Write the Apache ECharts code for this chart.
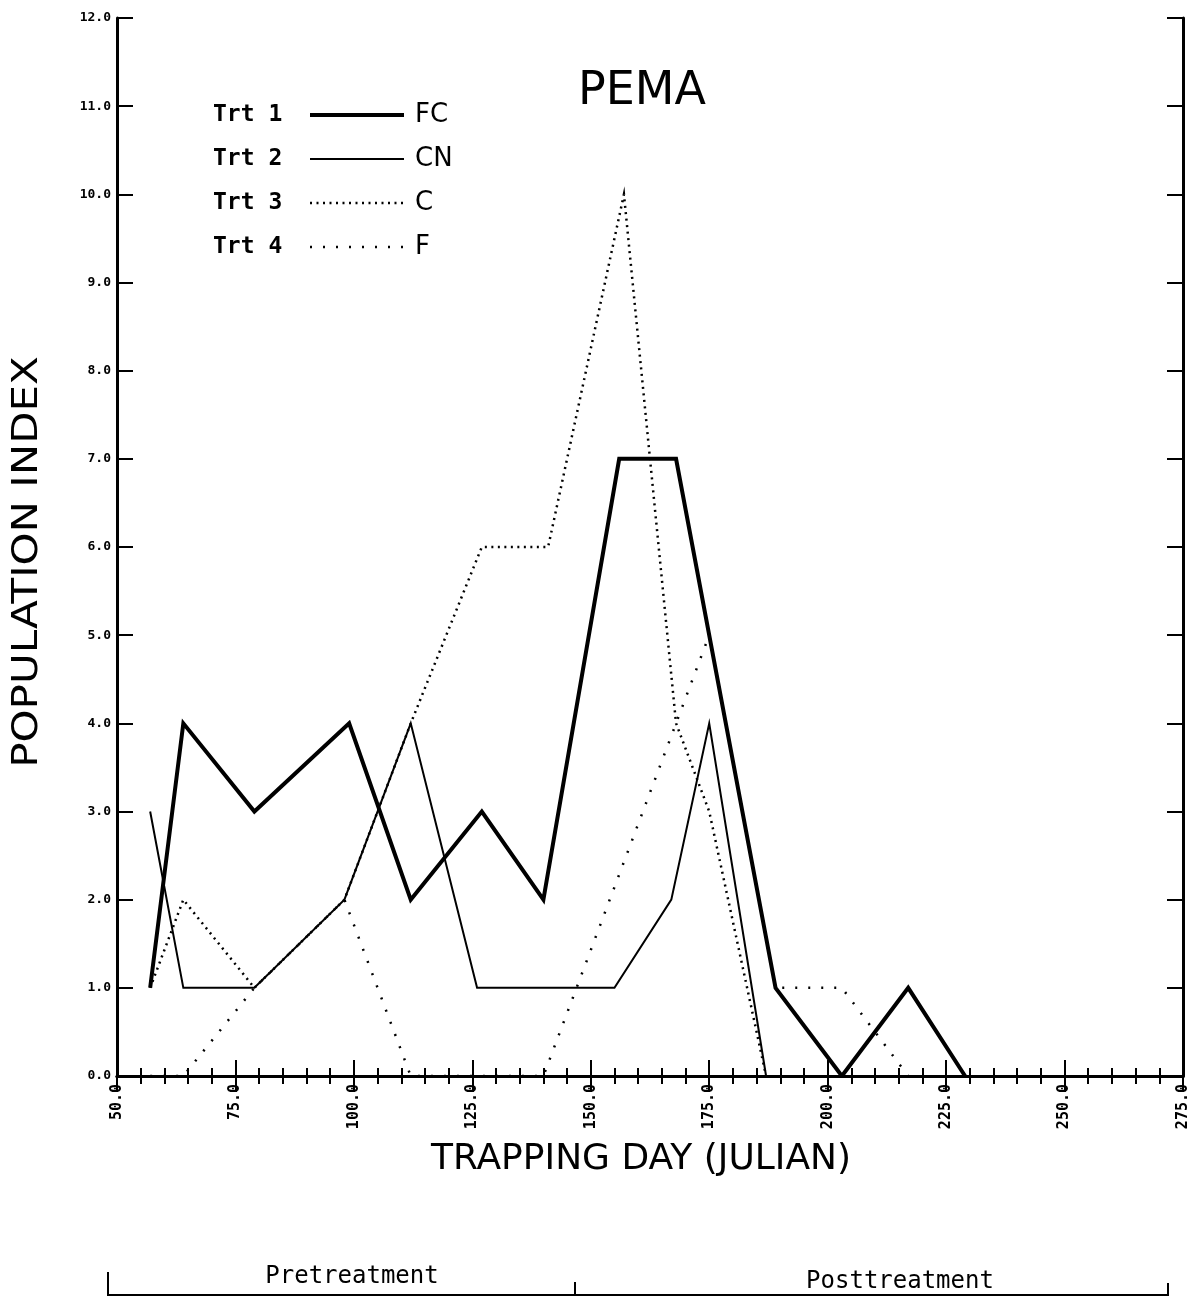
<!DOCTYPE html>
<html><head><meta charset="utf-8">
<script src="https://cdn.jsdelivr.net/npm/echarts@6/dist/echarts.min.js"></script>
<style>html,body{margin:0;padding:0;background:#fff}#c{width:1199px;height:1306px}</style>
</head><body><div id="c"></div>
<script>
// ---- data ----
const daysFC = [57, 64, 79, 99, 112, 127, 140, 156, 168, 189, 203, 217, 229];
const trt1FC = [1, 4, 3, 4, 2, 3, 2, 7, 7, 1, 0, 1, 0];
const daysCN = [57, 64, 79, 98, 112, 126, 155, 167, 175, 187];
const trt2CN = [3, 1, 1, 2, 4, 1, 1, 2, 4, 0];
const daysC = [57, 64, 79, 98, 112, 127, 141, 157, 168, 175, 187];
const trt3C = [1, 2, 1, 2, 4, 6, 6, 10, 4, 3, 0];
const daysF = [57, 64, 79, 98, 112, 127, 140, 168, 175, 189, 203, 217];
const trt4F = [0, 0, 1, 2, 0, 0, 0, 4, 5, 1, 1, 0];

const xRange = [50, 275];
const xStep = 25;
const yRange = [0, 12];
const yStep = 1;
const legendCodes = ['FC', 'CN', 'C', 'F'];
const trtLabels = ['Trt 1', 'Trt 2', 'Trt 3', 'Trt 4'];
const chartTitle = 'PEMA';
const xTitle = 'TRAPPING DAY (JULIAN)';
const yTitle = 'POPULATION INDEX';
const periodLabels = ['Pretreatment', 'Posttreatment'];

const pairs = (d, v) => d.map((x, i) => [x, v[i]]);

const chart = echarts.init(document.getElementById('c'), null, {renderer: 'canvas'});
const black = '#000';

function xAxisCfg(pos, showLabel) {
  return {
    type: 'value', position: pos, min: xRange[0], max: xRange[1], interval: xStep,
    axisLine: {show: true, lineStyle: {color: black, width: 3}},
    axisTick: {show: true, inside: true, length: 16, lineStyle: {color: black, width: 2}},
    minorTick: {show: true, splitNumber: 5, length: 8, lineStyle: {color: black, width: 2}},
    splitLine: {show: false},
    axisLabel: {show: showLabel, rotate: 90, margin: 8, color: black,
      fontFamily: 'DejaVu Sans Mono', fontWeight: 'bold', fontSize: 15,
      formatter: v => v.toFixed(1)}
  };
}
function yAxisCfg(pos, showLabel) {
  return {
    type: 'value', position: pos, min: yRange[0], max: yRange[1], interval: yStep,
    axisLine: {show: true, lineStyle: {color: black, width: 3}},
    axisTick: {show: true, inside: true, length: 16, lineStyle: {color: black, width: 2}},
    splitLine: {show: false},
    axisLabel: {show: showLabel, margin: 6, color: black,
      fontFamily: 'DejaVu Sans Mono', fontWeight: 'bold', fontSize: 13,
      formatter: v => v.toFixed(1)}
  };
}

const styles = [
  {width: 4, type: 'solid'},
  {width: 2, type: 'solid'},
  {width: 2.5, type: [2, 4.5]},
  {width: 2.5, type: [2, 11]}
];
const seriesData = [pairs(daysFC, trt1FC), pairs(daysCN, trt2CN), pairs(daysC, trt3C), pairs(daysF, trt4F)];

const rowY = [115, 159, 203, 247];

chart.setOption({
  backgroundColor: '#fff',
  animation: false,
  grid: {left: 117, right: 16, top: 18, bottom: 230, show: false},
  xAxis: [xAxisCfg('bottom', true), xAxisCfg('top', false)],
  yAxis: [yAxisCfg('left', true), yAxisCfg('right', false)],
  legend: {
    orient: 'vertical', left: 308, top: 102, padding: 0,
    itemWidth: 94, itemHeight: 14, itemGap: 18, selectedMode: false,
    itemStyle: {opacity: 0},
    textStyle: {fontFamily: 'DejaVu Sans', fontSize: 26, color: black, padding: [0, 0, 0, 6]},
    data: legendCodes.map((c, i) => ({
      name: c,
      itemStyle: {opacity: 0},
      lineStyle: {color: black, width: styles[i].width, type: styles[i].type, cap: 'butt', opacity: 1}
    }))
  },
  series: seriesData.map((d, i) => ({
    name: legendCodes[i], type: 'line', xAxisIndex: 0, yAxisIndex: 0,
    data: d, symbol: 'none', z: 10 - i,
    lineStyle: {color: black, width: styles[i].width, type: styles[i].type, cap: 'butt', join: 'miter'},
    itemStyle: {color: black}
  })),
  graphic: [
    {type: 'text', x: 642, y: 92, style: {text: chartTitle, font: 'normal 46px "DejaVu Sans"', fill: black, align: 'center', verticalAlign: 'middle'}},
    ...trtLabels.map((t, i) => ({type: 'text', x: 213, y: rowY[i],
      style: {text: t, font: 'bold 23px "DejaVu Sans Mono"', fill: black, align: 'left', verticalAlign: 'middle'}})),
    {type: 'text', x: 28, y: 562, rotation: Math.PI / 2, scaleX: 1.2,
      style: {text: yTitle, font: 'normal 35px "DejaVu Sans"', fill: black, align: 'center', verticalAlign: 'middle'}},
    {type: 'text', x: 641, y: 1160,
      style: {text: xTitle, font: 'normal 36px "DejaVu Sans"', fill: black, align: 'center', verticalAlign: 'middle'}},
    {type: 'polyline', shape: {points: [[108, 1272], [108, 1295], [1168, 1295], [1168, 1283]]}, style: {stroke: black, lineWidth: 2, fill: null}},
    {type: 'line', shape: {x1: 575, y1: 1282, x2: 575, y2: 1295}, style: {stroke: black, lineWidth: 2}},
    {type: 'text', x: 352, y: 1277, style: {text: periodLabels[0], font: 'normal 24px "DejaVu Sans Mono"', fill: black, align: 'center', verticalAlign: 'middle'}},
    {type: 'text', x: 900, y: 1282, style: {text: periodLabels[1], font: 'normal 24px "DejaVu Sans Mono"', fill: black, align: 'center', verticalAlign: 'middle'}}
  ]
});
</script></body></html>
